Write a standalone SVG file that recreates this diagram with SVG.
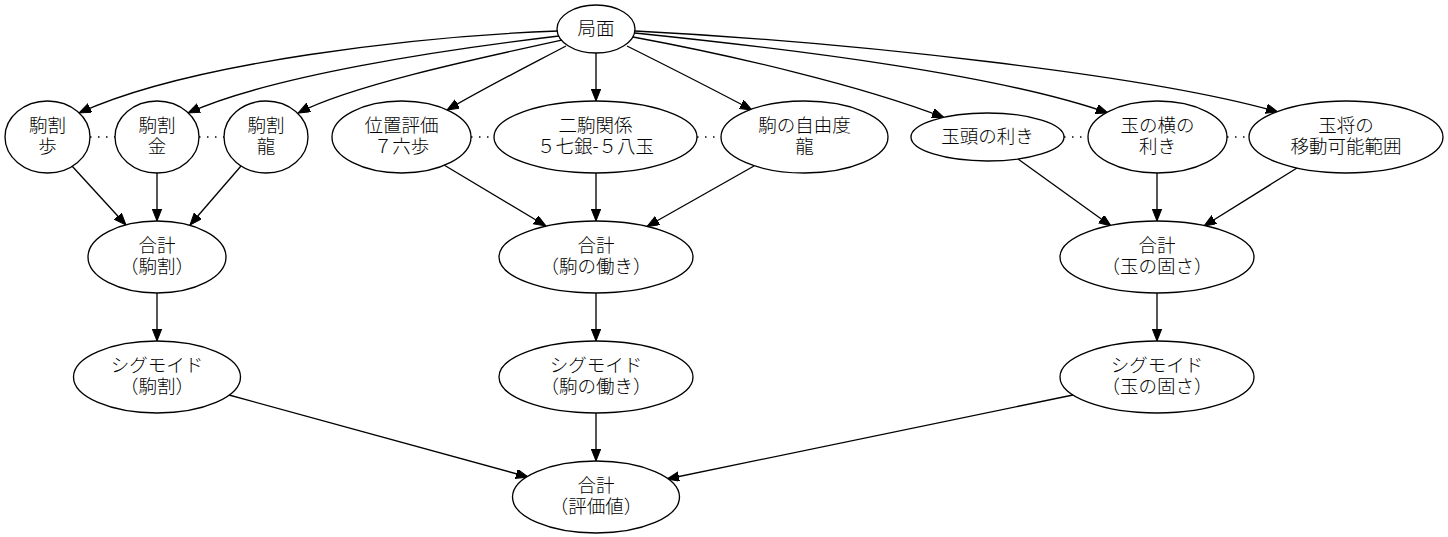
<svg xmlns="http://www.w3.org/2000/svg" width="1448" height="537" viewBox="0 0 1448 537">
<defs>
<marker id="arr" markerUnits="userSpaceOnUse" markerWidth="12" markerHeight="10" refX="12" refY="4.7" orient="auto">
<path d="M0,0 L12,4.7 L0,9.4 z" fill="#000" stroke="#000" stroke-width="1"/>
</marker>
</defs>
<style>
.n ellipse{fill:#fff;stroke:#000;stroke-width:1.33}
.n text{font-family:"Noto Sans CJK JP","Noto Sans CJK SC",sans-serif;font-size:18.5px;font-weight:300;text-anchor:middle;fill:#000}
.e path{fill:none;stroke:#000;stroke-width:1.33;marker-end:url(#arr)}
.d line{stroke:#000;stroke-width:1.33;stroke-dasharray:1.5,6.5}
</style>
<rect width="1448" height="537" fill="#fff"/>
<g id="connectors">
<g class="e">
<path d="M558,31 C420,36 190,62 79,113"/>
<path d="M559,36 C440,50 270,76 188,113"/>
<path d="M562,40 C470,60 350,86 298,113"/>
<path d="M566,46 C530,65 490,85 447,110"/>
<path d="M596,53 L596,101"/>
<path d="M627,46 C665,65 705,85 752,110"/>
<path d="M633,37 C730,55 860,85 944,117.5"/>
<path d="M635,33 C800,50 1000,75 1108,113"/>
<path d="M635,31 C850,42 1150,75 1278,112"/>
<path d="M72,166 L126,225"/>
<path d="M157,173 L157,221"/>
<path d="M241,166 L190,225"/>
<path d="M444,165 L546,226"/>
<path d="M596,173 L596,221"/>
<path d="M754,166 L647,226.5"/>
<path d="M1018,159 L1111,226"/>
<path d="M1157,173 L1157,221"/>
<path d="M1297,168 L1204,226"/>
<path d="M157,293 L157,341"/>
<path d="M596,293 L596,341"/>
<path d="M1157,293 L1157,341"/>
<path d="M229,395 L528,477"/>
<path d="M596,413 L596,461"/>
<path d="M1073,395 L667,479"/>
</g>
<g class="d">
<line x1="90" y1="137" x2="115" y2="137"/>
<line x1="199" y1="137" x2="224" y2="137"/>
<line x1="471" y1="137" x2="494" y2="137"/>
<line x1="697" y1="137" x2="721" y2="137"/>
<line x1="1064" y1="137" x2="1088" y2="137"/>
<line x1="1227" y1="137" x2="1249" y2="137"/>
</g>
</g>
<g id="n_kyokumen" class="n"><ellipse cx="596" cy="29" rx="39" ry="24"/><text x="596" y="35">局面</text></g>
<g id="n_fu" class="n"><ellipse cx="47.5" cy="137" rx="42.5" ry="36"/><text x="47.5" y="132">駒割<tspan x="47.5" dy="21">歩</tspan></text></g>
<g id="n_kin" class="n"><ellipse cx="157" cy="137" rx="42" ry="36"/><text x="157" y="132">駒割<tspan x="157" dy="21">金</tspan></text></g>
<g id="n_ryu" class="n"><ellipse cx="266" cy="137" rx="42" ry="36"/><text x="266" y="132">駒割<tspan x="266" dy="21">龍</tspan></text></g>
<g id="n_ichi" class="n"><ellipse cx="401.5" cy="137" rx="69.5" ry="36"/><text x="401.5" y="132">位置評価<tspan x="401.5" dy="21">７六歩</tspan></text></g>
<g id="n_nikoma" class="n"><ellipse cx="595.5" cy="137" rx="101.5" ry="36"/><text x="595.5" y="132">二駒関係<tspan x="595.5" dy="21">５七銀-５八玉</tspan></text></g>
<g id="n_jiyu" class="n"><ellipse cx="804.5" cy="137" rx="83.5" ry="36"/><text x="804.5" y="132">駒の自由度<tspan x="804.5" dy="21">龍</tspan></text></g>
<g id="n_gyokuto" class="n"><ellipse cx="987.5" cy="137" rx="76.5" ry="24"/><text x="987.5" y="143">玉頭の利き</text></g>
<g id="n_yoko" class="n"><ellipse cx="1157.5" cy="137" rx="69.5" ry="36"/><text x="1157.5" y="132">玉の横の<tspan x="1157.5" dy="21">利き</tspan></text></g>
<g id="n_idou" class="n"><ellipse cx="1346" cy="137" rx="97" ry="36"/><text x="1346" y="132">玉将の<tspan x="1346" dy="21">移動可能範囲</tspan></text></g>
<g id="n_sum_koma" class="n"><ellipse cx="157" cy="257" rx="69" ry="36"/><text x="157" y="252">合計<tspan x="157" dy="21">（駒割）</tspan></text></g>
<g id="n_sum_hataraki" class="n"><ellipse cx="596" cy="257" rx="97" ry="36"/><text x="596" y="252">合計<tspan x="596" dy="21">（駒の働き）</tspan></text></g>
<g id="n_sum_katasa" class="n"><ellipse cx="1157" cy="257" rx="97" ry="36"/><text x="1157" y="252">合計<tspan x="1157" dy="21">（玉の固さ）</tspan></text></g>
<g id="n_sig_koma" class="n"><ellipse cx="157" cy="377" rx="83.5" ry="36"/><text x="157" y="372">シグモイド<tspan x="157" dy="21">（駒割）</tspan></text></g>
<g id="n_sig_hataraki" class="n"><ellipse cx="596" cy="377" rx="97" ry="36"/><text x="596" y="372">シグモイド<tspan x="596" dy="21">（駒の働き）</tspan></text></g>
<g id="n_sig_katasa" class="n"><ellipse cx="1157" cy="377" rx="97" ry="36"/><text x="1157" y="372">シグモイド<tspan x="1157" dy="21">（玉の固さ）</tspan></text></g>
<g id="n_total" class="n"><ellipse cx="596" cy="497" rx="83.5" ry="36"/><text x="596" y="492">合計<tspan x="596" dy="21">（評価値）</tspan></text></g>
</svg>
